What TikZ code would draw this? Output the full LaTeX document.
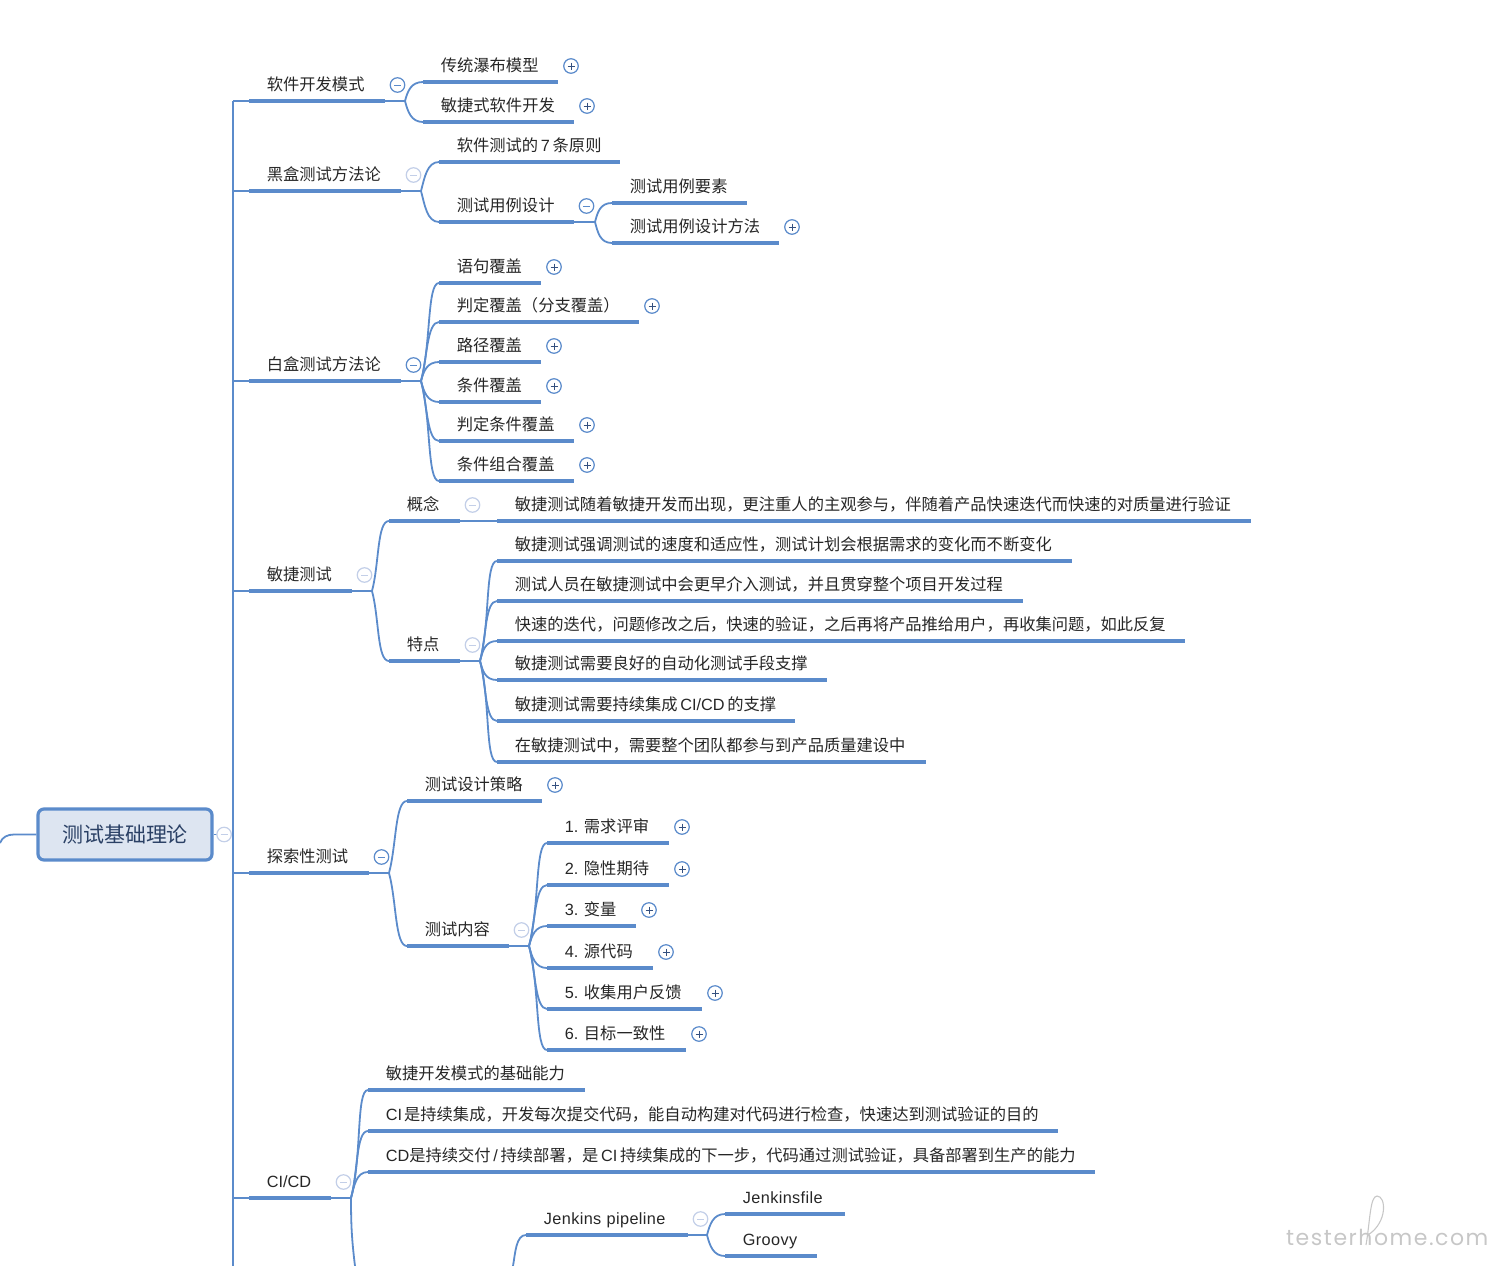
\documentclass[tikz,border=0pt]{standalone}
\usepackage{fontspec}
\setmainfont{Noto Sans CJK SC}
\newfontfamily\latfont{Liberation Sans}
\newfontfamily\latwide[LetterSpace=2.3]{Liberation Sans}
\newfontfamily\markfont[LetterSpace=7]{Poppins}
\newcommand{\lat}[1]{{\latfont #1}}
\usetikzlibrary{positioning}
\definecolor{mapblue}{HTML}{5B8BCB}
\definecolor{mapfade}{HTML}{C3CFE8}
\definecolor{mapdark}{HTML}{34507F}
\definecolor{rootfill}{HTML}{DDE5F1}
\definecolor{maptext}{HTML}{262626}
\tikzset{
  topic/.style={anchor=south west,inner xsep=0pt,inner ysep=6pt,outer sep=0pt,
    text height=12pt,text depth=4.1pt,align=left,text=maptext,
    font=\fontsize{16.27}{18}\selectfont,execute at begin node=\hspace*{17.9pt}},
  under/.style={draw=mapblue,line width=4.6pt},
  link/.style={draw=mapblue,line width=1.8pt},
  bendup/.style={out=75,in=180,in distance=12pt},
  benddown/.style={out=-75,in=180,in distance=12pt},
  btn/.style={circle,draw=#1,fill=white,line width=1.2pt,minimum size=14.5pt,inner sep=0pt},
  plusbtn/.style={btn=mapblue,path picture={
    \draw[mapdark,line width=1pt] (path picture bounding box.center) ++(-3.5,0) -- ++(7,0);
    \draw[mapdark,line width=1pt] (path picture bounding box.center) ++(0,-3.5) -- ++(0,7);}},
  minusbtn/.style={btn=#1,path picture={
    \draw[#1,line width=1pt] (path picture bounding box.center) ++(-3.5,0) -- ++(7,0);}},
}
\begin{document}
\begin{tikzpicture}[x=1pt,y=-1pt]
\useasboundingbox (0,0) rectangle (1492,1266);

% root and trunk
\node[draw=mapblue,fill=rootfill,rounded corners=6pt,line width=3.2pt,minimum width=174pt,minimum height=51pt,
  text=mapdark!80!black,font=\fontsize{21}{24}\selectfont] (root) at (125,834.5) {测试基础理论};
\coordinate (rootin) at (0,843);
\coordinate (trunktop) at (233,101);
\coordinate (trunkend) at (233,1266);
\draw[link] (rootin) to[out=70,in=180] (14,834.5) -- (root.west);
\draw[link] (trunktop) -- (trunkend);
\draw[link] (root.east) -- (root.east -| trunktop);

% first level
\foreach \n/\y/\w/\txt in {
  soft/101/136/{软件开发模式},
  black/191/152/{黑盒测试方法论},
  white/381/152/{白盒测试方法论},
  agile/591/103/{敏捷测试},
  explore/873/120/{探索性测试},
  cicd/1198/82/{\lat{CI/CD}}}{
  \node[topic,text width=\w pt] (\n) at (249,\y) {\txt};
  \draw[under] (\n.south west) -- (\n.south east);
  \draw[link] (\n.south west) -- (\n.south west -| trunktop);
}

% software models
\coordinate (softfork) at (405,101);
\draw[link] (soft.south east) -- (softfork);
\foreach \n/\y/\w/\dir/\txt in {
  water/82/135/bendup/{传统瀑布模型},
  scrum/122/151/benddown/{敏捷式软件开发}}{
  \node[topic,text width=\w pt] (\n) at (423,\y) {\txt};
  \draw[under] (\n.south west) -- (\n.south east);
  \draw[link] (softfork) to[\dir] (\n.south west);
}

% black box
\coordinate (blackfork) at (421,191);
\draw[link] (black.south east) -- (blackfork);
\foreach \n/\y/\w/\dir/\txt in {
  rules/162/181/bendup/{软件测试的\,\lat{7}\,条原则},
  design/222/135/benddown/{测试用例设计}}{
  \node[topic,text width=\w pt] (\n) at (439,\y) {\txt};
  \draw[under] (\n.south west) -- (\n.south east);
  \draw[link] (blackfork) to[\dir] (\n.south west);
}
\coordinate (designfork) at (595,222);
\draw[link] (design.south east) -- (designfork);
\foreach \n/\y/\w/\dir/\txt in {
  element/203/135/bendup/{测试用例要素},
  method/243/167/benddown/{测试用例设计方法}}{
  \node[topic,text width=\w pt] (\n) at (612,\y) {\txt};
  \draw[under] (\n.south west) -- (\n.south east);
  \draw[link] (designfork) to[\dir] (\n.south west);
}

% white box
\coordinate (whitefork) at (421,381);
\draw[link] (white.south east) -- (whitefork);
\foreach \n/\y/\w/\dir/\txt in {
  stmt/283/102/bendup/{语句覆盖},
  branch/322/200/bendup/{判定覆盖（分支覆盖）},
  pathcov/362/102/bendup/{路径覆盖},
  cond/402/102/benddown/{条件覆盖},
  decond/441/135/benddown/{判定条件覆盖},
  multi/481/135/benddown/{条件组合覆盖}}{
  \node[topic,text width=\w pt] (\n) at (439,\y) {\txt};
  \draw[under] (\n.south west) -- (\n.south east);
  \draw[link] (whitefork) to[\dir] (\n.south west);
}

% agile testing
\coordinate (agilefork) at (372,591);
\draw[link] (agile.south east) -- (agilefork);
\foreach \n/\y/\dir/\txt in {
  idea/521/bendup/{概念},
  trait/661/benddown/{特点}}{
  \node[topic,text width=71pt] (\n) at (389,\y) {\txt};
  \draw[under] (\n.south west) -- (\n.south east);
  \draw[link] (agilefork) to[\dir] (\n.south west);
}
\node[topic,text width=754pt] (ideatext) at (497,521) {敏捷测试随着敏捷开发而出现，更注重人的主观参与，伴随着产品快速迭代而快速的对质量进行验证};
\draw[under] (ideatext.south west) -- (ideatext.south east);
\draw[link] (idea.south east) -- (ideatext.south west);
\coordinate (traitfork) at (480,661);
\draw[link] (trait.south east) -- (traitfork);
\foreach \n/\y/\w/\dir/\txt in {
  traita/561/575/bendup/{敏捷测试强调测试的速度和适应性，测试计划会根据需求的变化而不断变化},
  traitb/601/526/bendup/{测试人员在敏捷测试中会更早介入测试，并且贯穿整个项目开发过程},
  traitc/641/688/bendup/{快速的迭代，问题修改之后，快速的验证，之后再将产品推给用户，再收集问题，如此反复},
  traitd/680/330/benddown/{敏捷测试需要良好的自动化测试手段支撑},
  traite/721/298/benddown/{敏捷测试需要持续集成\,\lat{CI/CD}\,的支撑},
  traitf/762/429/benddown/{在敏捷测试中，需要整个团队都参与到产品质量建设中}}{
  \node[topic,text width=\w pt] (\n) at (497,\y) {\txt};
  \draw[under] (\n.south west) -- (\n.south east);
  \draw[link] (traitfork) to[\dir] (\n.south west);
}

% exploratory testing
\coordinate (explorefork) at (389,873);
\draw[link] (explore.south east) -- (explorefork);
\foreach \n/\y/\w/\dir/\txt in {
  strategy/801/135/bendup/{测试设计策略},
  content/946/102/benddown/{测试内容}}{
  \node[topic,text width=\w pt] (\n) at (407,\y) {\txt};
  \draw[under] (\n.south west) -- (\n.south east);
  \draw[link] (explorefork) to[\dir] (\n.south west);
}
\coordinate (contentfork) at (529,946);
\draw[link] (content.south east) -- (contentfork);
\foreach \n/\y/\w/\dir/\txt in {
  review/843/122/bendup/{\lat{1.}\hspace{5.5pt}需求评审},
  hidden/885/122/bendup/{\lat{2.}\hspace{5.5pt}隐性期待},
  variable/926/89/bendup/{\lat{3.}\hspace{5.5pt}变量},
  source/968/106/benddown/{\lat{4.}\hspace{5.5pt}源代码},
  feedback/1009/155/benddown/{\lat{5.}\hspace{5.5pt}收集用户反馈},
  target/1050/139/benddown/{\lat{6.}\hspace{5.5pt}目标一致性}}{
  \node[topic,text width=\w pt] (\n) at (547,\y) {\txt};
  \draw[under] (\n.south west) -- (\n.south east);
  \draw[link] (contentfork) to[\dir] (\n.south west);
}

% CI/CD
\coordinate (cicdfork) at (351,1198);
\coordinate (cicdoff) at (355,1266);
\draw[link] (cicd.south east) -- (cicdfork);
\draw[link] (cicdfork) to[out=-90,in=97] (cicdoff);
\foreach \n/\y/\w/\txt in {
  basis/1090/217/{敏捷开发模式的基础能力},
  ci/1131/690/{\lat{CI}\hspace{2pt}是持续集成，开发每次提交代码，能自动构建对代码进行检查，快速达到测试验证的目的},
  cd/1172/727/{\lat{CD}是持续交付\,\lat{/}\,持续部署，是\,\lat{CI}\,持续集成的下一步，代码通过测试验证，具备部署到生产的能力}}{
  \node[topic,text width=\w pt] (\n) at (368,\y) {\txt};
  \draw[under] (\n.south west) -- (\n.south east);
  \draw[link] (cicdfork) to[bendup] (\n.south west);
}
\node[topic,text width=162pt] (pipeline) at (526,1235) {{\latwide Jenkins pipeline}};
\draw[under] (pipeline.south west) -- (pipeline.south east);
\coordinate (pipeoff) at (513,1266);
\draw[link] (pipeoff) to[out=80,in=180,in distance=10pt] (pipeline.south west);
\coordinate (pipefork) at (707,1235);
\draw[link] (pipeline.south east) -- (pipefork);
\foreach \n/\y/\w/\dir/\txt in {
  jfile/1214/120/bendup/{{\latwide Jenkinsfile}},
  groovy/1256/92/benddown/{{\latwide Groovy}}}{
  \node[topic,text width=\w pt] (\n) at (725,\y) {\txt};
  \draw[under] (\n.south west) -- (\n.south east);
  \draw[link] (pipefork) to[\dir] (\n.south west);
}

% buttons
\foreach \n in {water,scrum,method,stmt,branch,pathcov,cond,decond,multi,strategy,review,hidden,variable,source,feedback,target}
  \node[plusbtn] (\n btn) at ([shift={(13,-16)}]\n.south east) {};
\foreach \n in {soft,white,design,explore}
  \node[minusbtn=mapblue] (\n btn) at ([shift={(12.5,-16)}]\n.south east) {};
\foreach \n in {black,agile,idea,trait,content,cicd,pipeline}
  \node[minusbtn=mapfade] (\n btn) at ([shift={(12.5,-16)}]\n.south east) {};
\node[minusbtn=mapfade] (rootbtn) at ([xshift=10.5pt]root.east) {};

% watermark
\node[anchor=base west,inner sep=0pt,text=black!22,font=\markfont\fontsize{22}{24}\selectfont] (mark) at (1286,1245) {testerhome.com};
\draw[black!22,line width=1.1pt] (mark.base west) ++(80,0) .. controls (1370,1222) and (1370,1196) .. (1377,1196)
  .. controls (1386,1196) and (1388,1222) .. (1368,1235);
\end{tikzpicture}
\end{document}
